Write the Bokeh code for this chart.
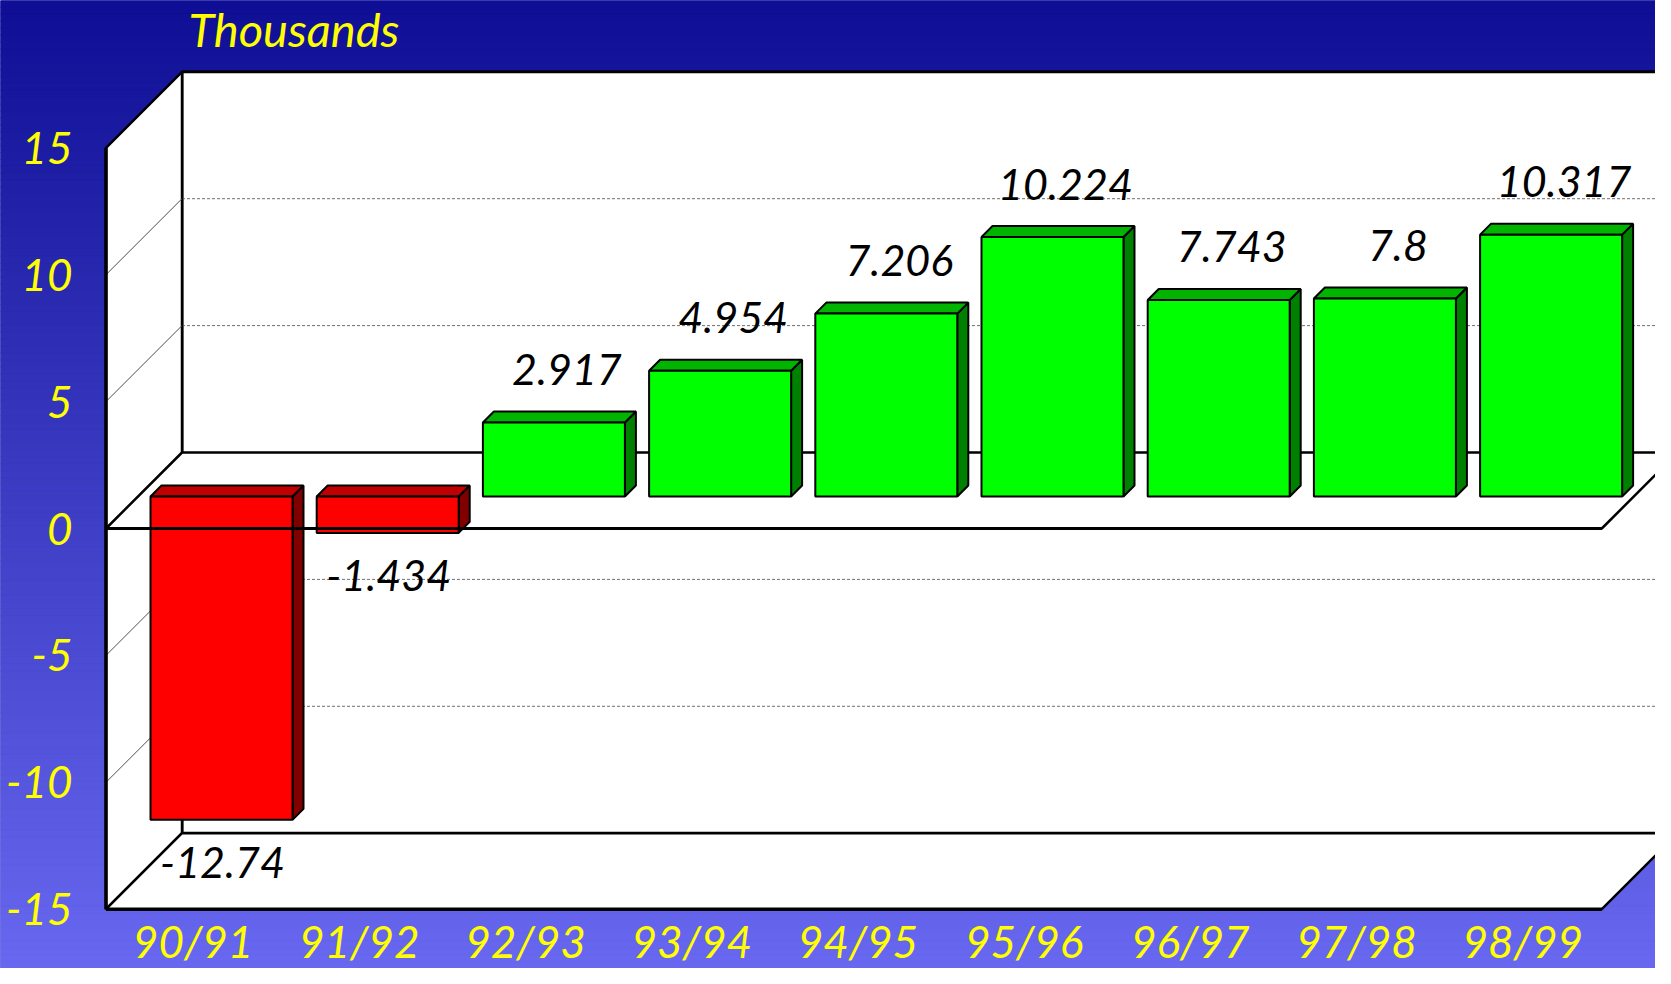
import numpy as np
from bokeh.plotting import figure
from bokeh.models import Range1d
from bokeh.core.properties import value
from bokeh.embed import file_html
from bokeh.resources import INLINE

# ---------------- data ----------------
categories = ["90/91", "91/92", "92/93", "93/94", "94/95", "95/96", "96/97", "97/98", "98/99"]
values = [-12.74, -1.434, 2.917, 4.954, 7.206, 10.224, 7.743, 7.8, 10.317]
value_labels = ["-12.74", "-1.434", "2.917", "4.954", "7.206", "10.224", "7.743", "7.8", "10.317"]
y_ticks = [15, 10, 5, 0, -5, -10, -15]
y_tick_labels = ["15", "10", "5", "0", "-5", "-10", "-15"]
grid_values = [10, 5, -5, -10]
y_lo, y_hi = -15, 15
title_text = "Thousands"

# ---------------- geometry (pixels) ----------------
W, H = 1655, 968
X0 = 105.5          # front-plane left edge (px)
SLOT = 166.2        # px per category slot
Y0 = 528            # front-plane zero (px from top)
PPU = 25.38         # px per value unit
DEPTH = 76          # depth of the box (px, 45 deg)
BAR_Z0, BAR_Z1 = 32, 43
BAR_INSET, BAR_W = 12.5, 142
FONT = "Lato"

def ux(px):
    return px / SLOT

def uy(px):
    return px / PPU

n = len(categories)
DX, DY = ux(DEPTH), uy(DEPTH)

p = figure(width=W, height=H, output_backend="svg", toolbar_location=None,
           x_range=Range1d(-X0 / SLOT, (W - X0) / SLOT),
           y_range=Range1d((Y0 - H) / PPU, Y0 / PPU),
           min_border=0, min_border_left=0, min_border_right=0,
           min_border_top=0, min_border_bottom=0)
p.xaxis.visible = False
p.yaxis.visible = False
p.xgrid.visible = False
p.ygrid.visible = False
p.outline_line_color = None
p.background_fill_color = "#10109a"
p.border_fill_color = "#10109a"

# background vertical gradient
xr0, xr1 = p.x_range.start, p.x_range.end
yb0, yb1 = p.y_range.start, p.y_range.end
NS = 140
edges = np.linspace(yb1, yb0, NS + 1)
c_top = np.array([15, 15, 150])
c_bot = np.array([104, 104, 240])
cols = []
for k in range(NS):
    t = (k + 0.5) / NS
    c = (c_top * (1 - t) + c_bot * t).astype(int)
    cols.append("#%02x%02x%02x" % tuple(c))
p.quad(left=xr0, right=xr1, top=edges[:-1], bottom=edges[1:], fill_color=cols, line_color=cols, line_width=1)

# back wall
p.quad(left=DX, right=n + DX + 2, bottom=y_lo + DY, top=y_hi + DY,
       fill_color="white", line_color="black", line_width=3)
# back wall gridlines
p.multi_line(xs=[[DX, n + DX + 2] for g in grid_values],
             ys=[[g + DY, g + DY] for g in grid_values],
             line_color="#707070", line_width=1, line_dash="3 2")

# left side wall
p.patch([0, DX, DX, 0], [y_hi, y_hi + DY, y_lo + DY, y_lo],
        fill_color="white", line_color="black", line_width=2.5)
p.multi_line(xs=[[0, DX] for g in grid_values],
             ys=[[g, g + DY] for g in grid_values],
             line_color="#505050", line_width=1)
p.line([0, 0], [y_lo, y_hi], line_color="black", line_width=3.5)

# bottom floor
p.patch([0, n, n + DX, DX], [y_lo, y_lo, y_lo + DY, y_lo + DY],
        fill_color="white", line_color="black", line_width=2.5)
p.line([0, n], [y_lo, y_lo], line_color="black", line_width=3.5)

# zero floor
p.patch([0, n, n + DX, DX], [0, 0, DY, DY],
        fill_color="white", line_color="black", line_width=2.5)

# bars
front_xs, front_ys, front_c = [], [], []
top_xs, top_ys, top_c = [], [], []
side_xs, side_ys, side_c = [], [], []
dzx, dzy = ux(BAR_Z1 - BAR_Z0), uy(BAR_Z1 - BAR_Z0)
for i, v in enumerate(values):
    xl = i + ux(BAR_INSET + BAR_Z0)
    xr = xl + ux(BAR_W)
    yt = max(v, 0) + uy(BAR_Z0)
    yb = min(v, 0) + uy(BAR_Z0)
    pos = v >= 0
    front_xs.append([xl, xr, xr, xl]); front_ys.append([yb, yb, yt, yt])
    front_c.append("#00ff00" if pos else "#ff0000")
    top_xs.append([xl, xr, xr + dzx, xl + dzx]); top_ys.append([yt, yt, yt + dzy, yt + dzy])
    top_c.append("#00b400" if pos else "#c00000")
    side_xs.append([xr, xr + dzx, xr + dzx, xr]); side_ys.append([yb, yb + dzy, yt + dzy, yt])
    side_c.append("#008000" if pos else "#800000")
p.patches(side_xs, side_ys, fill_color=side_c, line_color="black", line_width=2)
p.patches(top_xs, top_ys, fill_color=top_c, line_color="black", line_width=2)
p.patches(front_xs, front_ys, fill_color=front_c, line_color="black", line_width=2)

# front edge of zero floor over hanging bars
p.line([0, n], [0, 0], line_color="black", line_width=3)

# value labels (vertically centred on the digit body)
lx, ly = [], []
for i, v in enumerate(values):
    xc = i + ux(BAR_INSET + BAR_Z0 + BAR_W / 2)
    if v >= 0:
        lx.append(xc + ux(13)); ly.append(v + uy(BAR_Z0 + 53))
    else:
        lx.append(xc + ux(1)); ly.append(v + uy(BAR_Z0 - 43))
p.text(x=lx, y=ly, text=value_labels, text_align="center", text_baseline="middle",
       text_font=value(FONT), text_font_style="italic", text_font_size="43px", text_color="black")

# y tick labels
p.text(x=[ux(72 - X0)] * len(y_ticks), y=y_ticks, text=y_tick_labels,
       text_align="right", text_baseline="middle",
       text_font=value(FONT), text_font_style="italic", text_font_size="44px", text_color="#ffff00")

# x category labels
p.text(x=[i + 0.5 + ux(4) for i in range(n)], y=[uy(Y0 - 940)] * n, text=categories,
       text_align="center", text_baseline="middle",
       text_font=value(FONT), text_font_style="italic", text_font_size="44px", text_color="#ffff00")

# title
p.text(x=[ux(188 - X0)], y=[uy(Y0 - 28)], text=[title_text],
       text_align="left", text_baseline="middle",
       text_font=value(FONT), text_font_style="italic", text_font_size="47px", text_color="#ffff00")

open("out.html", "w").write(file_html(p, INLINE))
